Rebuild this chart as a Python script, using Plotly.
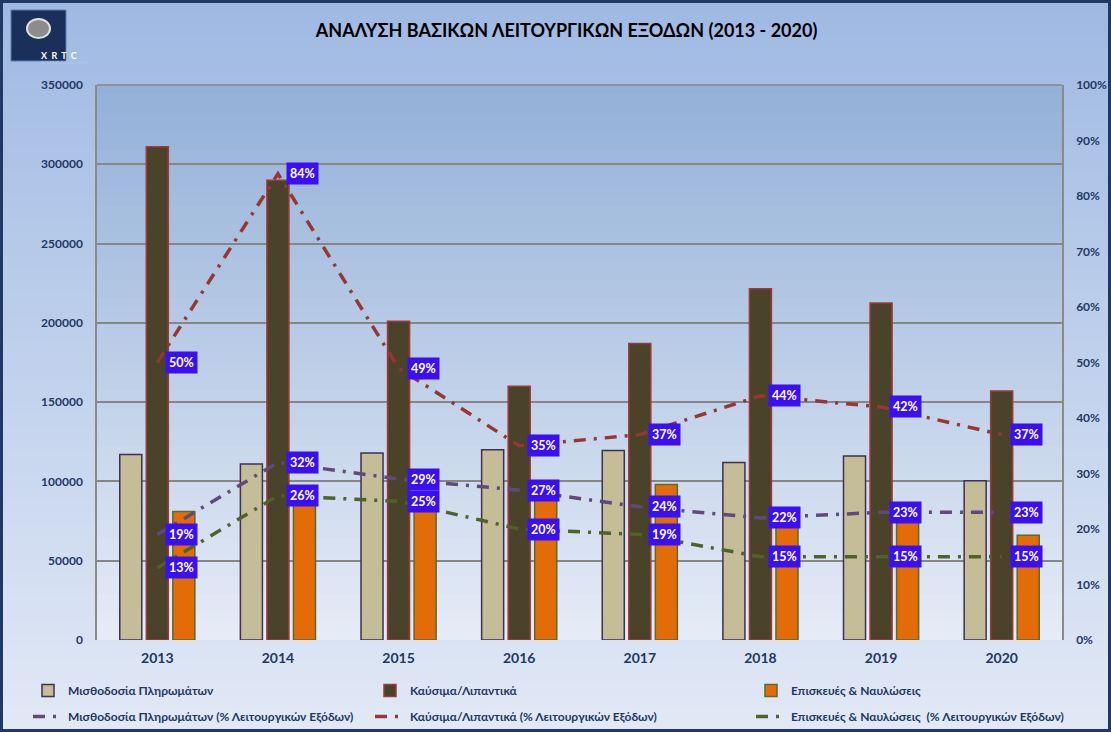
import plotly.graph_objects as go

# data
years = ['2013', '2014', '2015', '2016', '2017', '2018', '2019', '2020']
payroll = [117000, 111000, 118000, 120000, 119500, 112000, 116000, 100500]
fuel = [311000, 290000, 201000, 160000, 187000, 221500, 212500, 157000]
repairs = [81000, 89000, 84000, 90000, 98000, 75000, 76000, 66000]
payroll_pct = [0.19, 0.32, 0.29, 0.27, 0.24, 0.22, 0.23, 0.23]
fuel_pct = [0.50, 0.84, 0.49, 0.35, 0.37, 0.44, 0.42, 0.37]
repairs_pct = [0.13, 0.26, 0.25, 0.20, 0.19, 0.15, 0.15, 0.15]

names = ['Μισθοδοσία Πληρωμάτων', 'Καύσιμα/Λιπαντικά', 'Επισκευές & Ναυλώσεις']
pct_names = ['Μισθοδοσία Πληρωμάτων (% Λειτουργικών Εξόδων)',
             'Καύσιμα/Λιπαντικά (% Λειτουργικών Εξόδων)',
             'Επισκευές & Ναυλώσεις  (% Λειτουργικών Εξόδων)']

FONT = "Lato, 'Noto Sans', sans-serif"
NAVY = '#1F3864'
W, H = 1111, 732
ML, MR, MT, MB = 97, 49, 85, 92
PW, PH = W - ML - MR, H - MT - MB


def px_x(px):
    return (px - ML) / PW


def px_y(py):
    return (H - MB - py) / PH


def mix(c1, c2, t):
    a = [int(c1[i:i + 2], 16) for i in (1, 3, 5)]
    b = [int(c2[i:i + 2], 16) for i in (1, 3, 5)]
    return 'rgb(%d,%d,%d)' % tuple(round(a[k] + (b[k] - a[k]) * t) for k in range(3))


fig = go.Figure()

bar_styles = [('#C4BD97', '#3F3151'), ('#4A4229', '#A0393A'), ('#E36C09', '#5A6B2A')]
line_colors = ['#604A7B', '#953735', '#4F6228']
legends = ['legend', 'legend2', 'legend3']

for i, vals in enumerate([payroll, fuel, repairs]):
    fig.add_trace(go.Bar(
        x=years, y=vals, name=names[i],
        marker=dict(color=bar_styles[i][0], line=dict(color=bar_styles[i][1], width=1.5)),
        legend=legends[i], legendgroup='bar%d' % i
    ))

for i, vals in enumerate([payroll_pct, fuel_pct, repairs_pct]):
    fig.add_trace(go.Scatter(
        x=years, y=vals, name=pct_names[i], yaxis='y2', mode='lines',
        line=dict(color=line_colors[i], width=3.5, dash='12px,8px,3px,8px'),
        legend=legends[i], legendgroup='line%d' % i
    ))
    for j, v in enumerate(vals):
        fig.add_annotation(
            x=j, y=v, yref='y2', xanchor='left', yanchor='middle', xshift=8,
            text='%d%%' % round(v * 100), showarrow=False,
            bgcolor='#3A10F0', borderpad=3,
            font=dict(family=FONT, size=12.5, color='white', weight='bold')
        )

# background gradients (outer paper and plot area)
shapes = []
n = 60
for k in range(n):
    y0 = -MB / PH + (1 + (MT + MB) / PH) * k / n
    y1 = -MB / PH + (1 + (MT + MB) / PH) * (k + 1) / n
    shapes.append(dict(type='rect', xref='paper', yref='paper', layer='below',
                       x0=-ML / PW, x1=1 + MR / PW, y0=y0, y1=y1 + 0.002,
                       fillcolor=mix('#E2E9F6', '#9FB9E3', (k + 0.5) / n), line_width=0))
for k in range(n):
    shapes.append(dict(type='rect', xref='paper', yref='paper', layer='below',
                       x0=0, x1=1, y0=k / n, y1=(k + 1) / n + 0.002,
                       fillcolor=mix('#E6ECF7', '#93B0D8', (k + 0.5) / n), line_width=0))
# plot frame top line
shapes.append(dict(type='line', xref='paper', yref='paper', x0=0, x1=1, y0=1, y1=1,
                   line=dict(color='#8A8A8A', width=1.5)))
# outer border
shapes.append(dict(type='rect', xref='paper', yref='paper',
                   x0=px_x(1.5), x1=px_x(W - 1.5), y0=px_y(H - 1.5), y1=px_y(1.5),
                   line=dict(color='#1F3864', width=3)))
# logo
shapes.append(dict(type='rect', xref='paper', yref='paper',
                   x0=px_x(11), x1=px_x(66), y0=px_y(61), y1=px_y(10),
                   fillcolor='#1A2F5A', line=dict(color='#5B7FB8', width=1)))
shapes.append(dict(type='circle', xref='paper', yref='paper',
                   x0=px_x(27), x1=px_x(50), y0=px_y(38), y1=px_y(19),
                   fillcolor='#8C8C8C', line=dict(color='#E0E0E0', width=2)))
fig.update_layout(shapes=shapes)

fig.add_annotation(xref='paper', yref='paper', x=px_x(38.5), y=px_y(48),
                   text='X  R  T  C', showarrow=False,
                   font=dict(family=FONT, size=9, color='white', weight='bold'))
fig.add_annotation(xref='paper', yref='paper', x=px_x(38.5), y=px_y(57.5),
                   text='BUSINESS CONSULTANTS', showarrow=False,
                   font=dict(family=FONT, size=4, color='#B8C8E8'))

fig.update_layout(
    width=W, height=H,
    margin=dict(l=ML, r=MR, t=MT, b=MB, autoexpand=False),
    paper_bgcolor='#C3D2EE',
    plot_bgcolor='rgba(0,0,0,0)',
    font=dict(family=FONT, color=NAVY),
    title=dict(text='ΑΝΑΛΥΣΗ ΒΑΣΙΚΩΝ ΛΕΙΤΟΥΡΓΙΚΩΝ ΕΞΟΔΩΝ (2013 - 2020)',
               x=0.51, xanchor='center', y=1 - 31 / H, yanchor='middle',
               font=dict(family=FONT, size=18, color='black', weight='bold')),
    barmode='group', bargap=0.34, bargroupgap=0.17,
    xaxis=dict(type='category', range=[-0.5, 7.5], autorange=False,
               showgrid=False, ticks='', showline=False,
               tickfont=dict(size=14, color=NAVY, weight='bold'), ticklabelstandoff=8),
    yaxis=dict(range=[0, 350000], dtick=50000, tickformat='d',
               gridcolor='#868686', gridwidth=1.5, zeroline=False,
               showline=True, linecolor='#8A8A8A', linewidth=1.5,
               tickfont=dict(size=12, color=NAVY, weight='bold'), ticklabelstandoff=10),
    yaxis2=dict(range=[0, 1], dtick=0.1, tickformat='.0%', overlaying='y', side='right',
                showgrid=False, zeroline=False, showline=True, linecolor='#8A8A8A',
                linewidth=1.5, tickfont=dict(size=12, color=NAVY, weight='bold'),
                ticklabelstandoff=10),
    showlegend=True,
)

leg_common = dict(orientation='v', yanchor='top', y=px_y(676), xanchor='left',
                  bgcolor='rgba(0,0,0,0)', tracegroupgap=7, traceorder='grouped',
                  font=dict(family=FONT, size=12, color=NAVY, weight='bold'))
fig.update_layout(
    legend=dict(x=px_x(28), **leg_common),
    legend2=dict(x=px_x(370), **leg_common),
    legend3=dict(x=px_x(751), **leg_common),
)

# drop the default page margin so the figure sits at the window's top-left corner
fig.write_html("out.html", config={'displayModeBar': False},
               post_script="document.body.style.margin='0';")
